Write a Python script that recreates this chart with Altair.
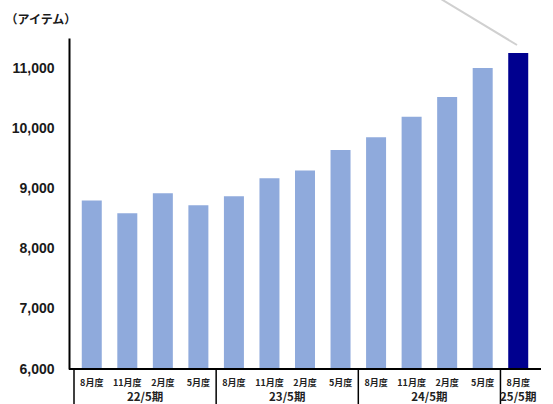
import altair as alt
import pandas as pd

months = ["8月度", "11月度", "2月度", "5月度",
          "8月度", "11月度", "2月度", "5月度",
          "8月度", "11月度", "2月度", "5月度",
          "8月度"]
values = [8800, 8590, 8920, 8720,
          8870, 9170, 9300, 9640,
          9850, 10190, 10520, 11000,
          11250]
highlight = [False] * 12 + [True]

groups = ["22/5期", "23/5期", "24/5期", "25/5期"]
group_centers = [1.5, 5.5, 9.5, 12]
separators = [-0.5, 3.5, 7.5, 11.5]
y_ticks = [6000, 7000, 8000, 9000, 10000, 11000]
y_base = 6000

bars_df = pd.DataFrame({
    "pos": list(range(len(values))),
    "month": months,
    "value": values,
    "base": [y_base] * len(values),
    "hl": highlight,
})
groups_df = pd.DataFrame({"pos": group_centers, "group": groups})
sep_df = pd.DataFrame({"pos": separators})

W, H = 472, 331
FONT = "Noto Sans CJK JP"

xscale = alt.Scale(domain=[-0.5, 12.5], nice=False, zero=False)
yscale = alt.Scale(domain=[6000, 11500], nice=False, zero=False)

bars = alt.Chart(bars_df).mark_bar(size=20).encode(
    x=alt.X("pos:Q", scale=xscale, axis=None),
    y=alt.Y("value:Q", scale=yscale,
            axis=alt.Axis(values=y_ticks, format=",d", labelFontSize=14,
                          labelFont="Liberation Sans", labelFontWeight="bold",
                          labelColor="#1a1a1a", ticks=False, grid=False,
                          domainColor="black", domainWidth=2, labelPadding=15,
                          title="（アイテム）", titleAngle=0, titleAlign="left",
                          titleBaseline="middle",
                          titleX=-64, titleY=-19, titleFont=FONT,
                          titleFontSize=12, titleFontWeight="bold",
                          titleColor="#1a1a1a")),
    y2="base:Q",
    color=alt.Color("hl:N", scale=alt.Scale(domain=[False, True],
                                            range=["#8FAADC", "#00008F"]),
                    legend=None),
)

baseline = alt.Chart(pd.DataFrame({"b": [y_base]})).mark_rule(
    color="black", strokeWidth=2
).encode(y=alt.Y("b:Q", scale=yscale), x=alt.value(0), x2=alt.value(W))

month_text = alt.Chart(bars_df).mark_text(
    font=FONT, fontSize=9, fontWeight="bold", color="#222222", baseline="middle"
).encode(x=alt.X("pos:Q", scale=xscale, axis=None), y=alt.value(H + 14),
         text="month:N")

group_text = alt.Chart(groups_df).mark_text(
    font=FONT, fontSize=11.5, fontWeight="bold", color="#222222", baseline="middle"
).encode(x=alt.X("pos:Q", scale=xscale, axis=None), y=alt.value(H + 29),
         text="group:N")

seps = alt.Chart(sep_df).mark_rule(color="black", strokeWidth=1.5).encode(
    x=alt.X("pos:Q", scale=xscale, axis=None), y=alt.value(H), y2=alt.value(H + 40)
)

leader = alt.Chart(pd.DataFrame({"a": [0]})).mark_rule(
    color="#d0d0d0", strokeWidth=2
).encode(x=alt.value(372), x2=alt.value(448), y=alt.value(-39), y2=alt.value(7))

chart = alt.layer(bars, baseline, seps, month_text, group_text, leader).properties(
    width=W, height=H,
    padding={"left": 69, "top": 38, "right": 12, "bottom": 35},
    autosize=alt.AutoSizeParams(type="none"),
    background="white",
).configure_view(stroke=None)

chart.save("out.html", embed_options={"renderer": "svg", "actions": False})
